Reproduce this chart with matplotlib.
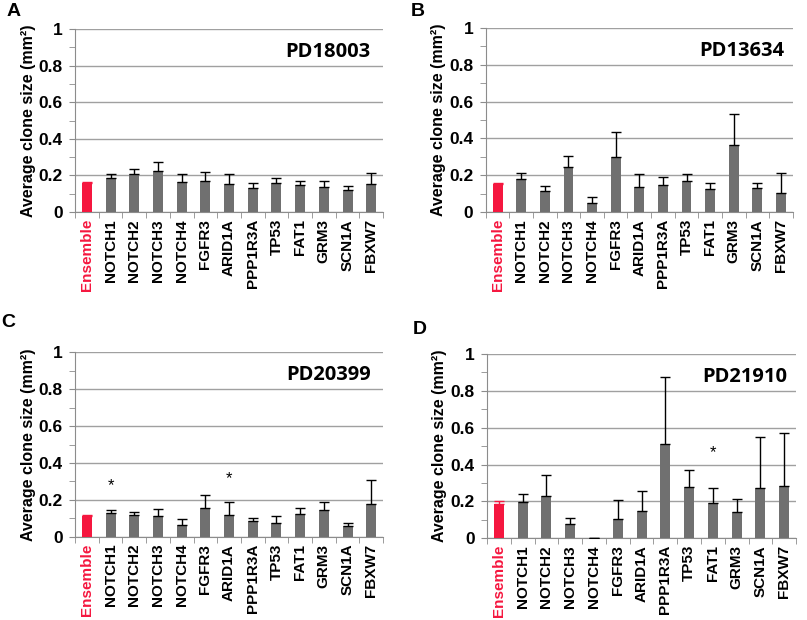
import numpy as np
import matplotlib
matplotlib.use("Agg")
import matplotlib.pyplot as plt
from matplotlib.ticker import FixedLocator

plt.rcParams['font.family'] = ['Liberation Sans', 'DejaVu Sans']

genes = ["Ensemble", "NOTCH1", "NOTCH2", "NOTCH3", "NOTCH4", "FGFR3", "ARID1A",
         "PPP1R3A", "TP53", "FAT1", "GRM3", "SCN1A", "FBXW7"]

# panel A - PD18003
mean_a = [0.159, 0.186, 0.208, 0.225, 0.163, 0.168, 0.152, 0.133, 0.157, 0.146, 0.139, 0.119, 0.152]
top_a = [0.164, 0.207, 0.238, 0.272, 0.208, 0.218, 0.208, 0.161, 0.186, 0.168, 0.168, 0.143, 0.214]
# panel B - PD13634
mean_b = [0.154, 0.179, 0.112, 0.244, 0.051, 0.300, 0.136, 0.145, 0.166, 0.127, 0.365, 0.128, 0.105]
top_b = [0.158, 0.210, 0.139, 0.307, 0.080, 0.436, 0.204, 0.188, 0.204, 0.157, 0.530, 0.157, 0.210]
# panel C - PD20399
mean_c = [0.112, 0.130, 0.121, 0.115, 0.065, 0.159, 0.121, 0.085, 0.076, 0.124, 0.146, 0.058, 0.180]
top_c = [0.116, 0.146, 0.137, 0.150, 0.097, 0.229, 0.191, 0.103, 0.114, 0.155, 0.187, 0.076, 0.310]
# panel D - PD21910
mean_d = [0.184, 0.195, 0.231, 0.075, 0.002, 0.102, 0.149, 0.513, 0.276, 0.193, 0.144, 0.275, 0.285]
top_d = [0.200, 0.242, 0.345, 0.111, 0.002, 0.209, 0.255, 0.875, 0.369, 0.273, 0.215, 0.547, 0.569]

stars_c = {"NOTCH1": 0.28, "ARID1A": 0.315}
stars_d = {"FAT1": 0.464}

yticks = [0, 0.2, 0.4, 0.6, 0.8, 1.0]
ytick_labels = ["0", "0.2", "0.4", "0.6", "0.8", "1"]

panels = [
    ("A", "PD18003", mean_a, top_a, {}, [0.093, 0.658, 0.3817, 0.295], (14, 12), 0.96),
    ("B", "PD13634", mean_b, top_b, {}, [0.602, 0.658, 0.3804, 0.297], (418, 12), 0.974),
    ("C", "PD20399", mean_c, top_c, stars_c, [0.093, 0.134, 0.3817, 0.298], (8, 322), 0.96),
    ("D", "PD21910", mean_d, top_d, stars_d, [0.6035, 0.132, 0.383, 0.297], (420, 329), 0.97),
]

red = "#f5173f"
grey = "#707070"
spine_col = "#8c8c8c"

fig = plt.figure(figsize=(8.07, 6.2), dpi=100)

for letter, name, mean, top, stars, pos, lpos, tx in panels:
    ax = fig.add_axes(pos)
    x = np.arange(len(genes))
    mean = np.array(mean)
    err = np.array(top) - mean
    colors = [red] + [grey] * (len(genes) - 1)
    ax.bar(x, mean, width=0.42, color=colors, zorder=3)
    for i in range(len(genes)):
        ax.errorbar(x[i], mean[i], yerr=[[0], [err[i]]], fmt="none",
                    ecolor=red if i == 0 else "black", elinewidth=1,
                    capsize=3.5, capthick=1, zorder=4)
    ax.set_xlim(-0.5, len(genes) - 0.5)
    ax.set_ylim(0, 1)
    ax.set_yticks(yticks)
    ax.set_yticklabels(ytick_labels, fontsize=12.5, fontweight="bold")
    ax.yaxis.set_minor_locator(FixedLocator(np.arange(0.1, 1.0, 0.2)))
    ax.yaxis.grid(True, which="major", color="#a0a0a0", linewidth=1, zorder=0)
    ax.set_xticks(x)
    ax.set_xticklabels(genes, rotation=90, fontsize=11, fontweight="bold")
    ax.get_xticklabels()[0].set_color(red)
    ax.xaxis.set_minor_locator(FixedLocator(np.arange(-0.5, len(genes), 1)))
    ax.tick_params(axis="x", which="major", length=0, pad=5)
    ax.tick_params(axis="x", which="minor", length=4, color=spine_col)
    ax.tick_params(axis="y", which="both", length=4, color=spine_col, pad=5)
    for s in ["top", "right"]:
        ax.spines[s].set_visible(False)
    ax.spines["left"].set_color(spine_col)
    ax.spines["bottom"].set_color(spine_col)
    ax.set_ylabel("Average clone size (mm²)", fontsize=11.5, fontweight="bold", labelpad=2)
    ax.text(tx, 0.875, name, transform=ax.transAxes, ha="right", va="center",
            fontsize=14.5, fontweight="bold", family=["Open Sans", "DejaVu Sans"])
    for g, yv in stars.items():
        ax.text(genes.index(g), yv, "*", ha="center", va="center", fontsize=12)
    fig.text(lpos[0] / 807, 1 - lpos[1] / 620, letter, ha="center", va="center",
             fontsize=14, fontweight="bold")

fig.savefig("out.png", dpi=100)
